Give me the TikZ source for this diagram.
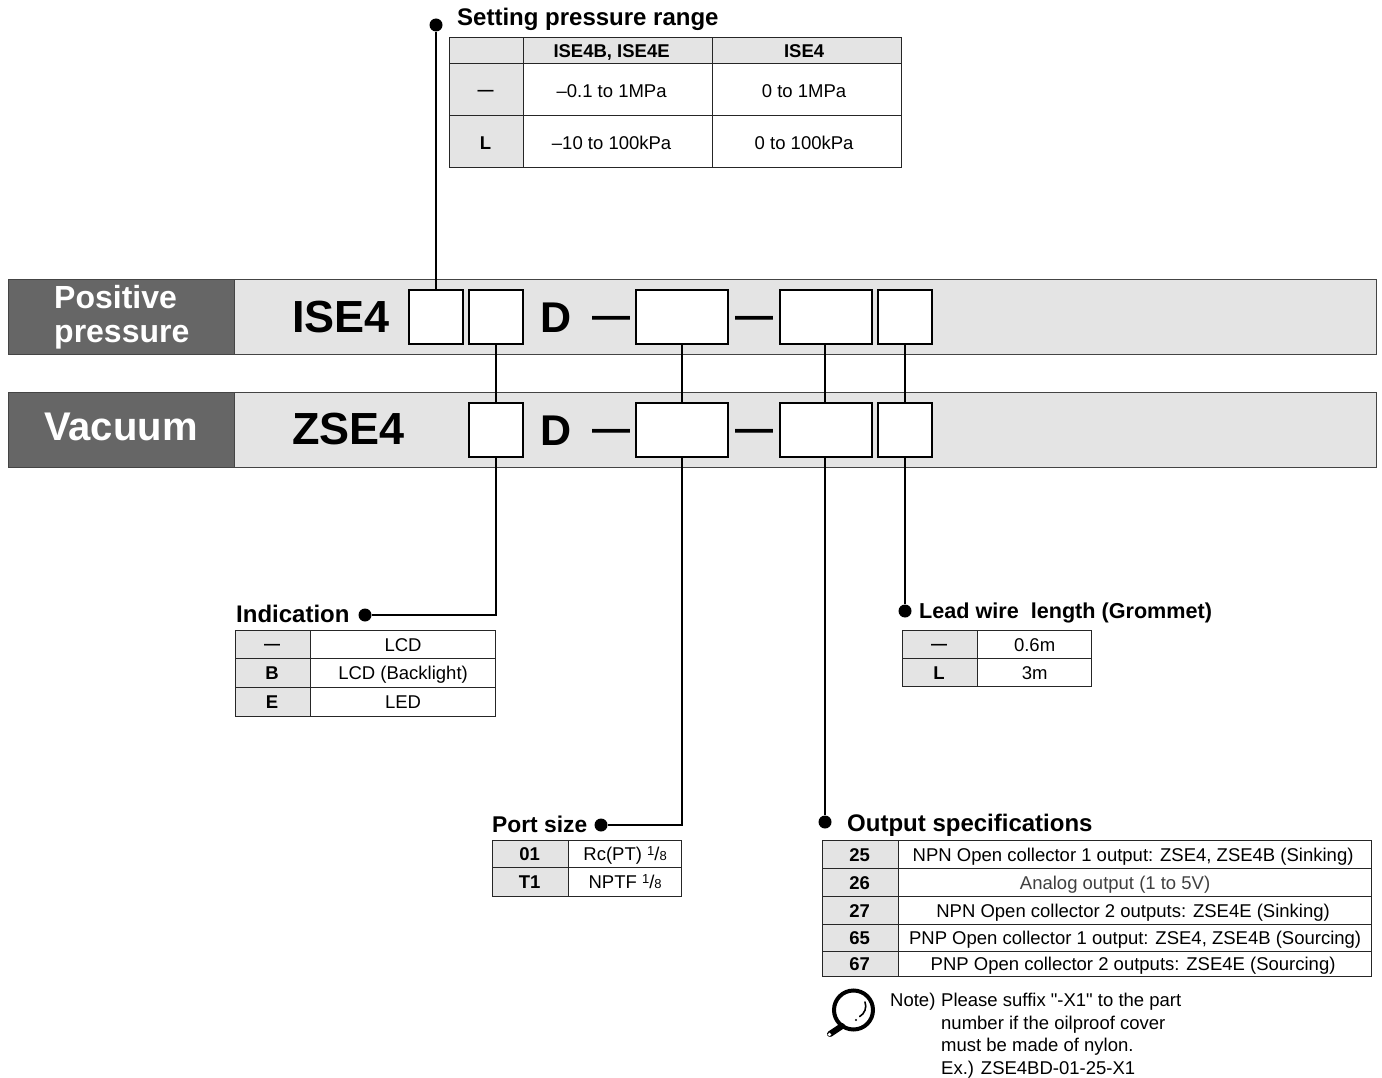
\documentclass[tikz,border=0pt]{standalone}
\usepackage{xcolor}
\usepackage{fontspec}
\setmainfont{Liberation Sans}
\newfontfamily\notefont{Liberation Sans}
\usetikzlibrary{arrows.meta, positioning}
\definecolor{banddark}{HTML}{666666}
\definecolor{bandlight}{HTML}{E4E4E4}
\definecolor{edgegray}{HTML}{444444}
\newcommand{\pxfont}[1]{\fontsize{#1}{#1}\selectfont}
\newcommand{\oneeighth}{\raisebox{5pt}{\pxfont{13}1}/\pxfont{13}8}
\newcommand{\keydash}{\raisebox{2pt}{\pxfont{16}—}}
\tikzset{
  band/.style={draw=edgegray, fill=bandlight, line width=1.2pt, minimum height=75pt, inner sep=0pt, anchor=north west},
  bandhead/.style={draw=edgegray, fill=banddark, text=white, font=\bfseries, line width=1.2pt, minimum height=75pt, inner sep=0pt, anchor=north west},
  codebox/.style={draw=black, fill=white, line width=2.2pt, minimum height=54pt, inner sep=0pt},
  code/.style={font=\pxfont{45}\bfseries, anchor=base west, inner sep=0pt},
  bigdash/.style={font=\pxfont{38}\bfseries, anchor=base, inner sep=0pt},
  dot/.style={circle, fill=black, inner sep=0pt, minimum size=13pt},
  wire/.style={line width=2.3pt, line join=miter},
  heading/.style={font=\pxfont{24}\bfseries, anchor=base west, inner sep=0pt},
  cell/.style={draw=black!85, line width=1.2pt, inner sep=0pt, anchor=north west, font=\pxfont{18.5}, text height=13.3pt, text depth=0pt},
  keycell/.style={cell, fill=bandlight, font=\pxfont{18.5}\bfseries},
  valcell/.style={cell, fill=white},
  notetext/.style={font=\notefont\fontsize{18.5}{22.5}\selectfont, align=left, inner sep=0pt, anchor=north west}
}
\begin{document}
\begin{tikzpicture}[x=1pt, y=-1pt]
  \useasboundingbox (0,0) rectangle (1382,1078);
  % Bands
  \node[band, minimum width=1142pt] (posband) at (234,279) {};
  \node[bandhead, minimum width=226pt] (poshead) at (8,279) {};
  \node[band, minimum width=1142pt] (vacband) at (234,392) {};
  \node[bandhead, minimum width=226pt] (vachead) at (8,392) {};
  \node[font=\fontsize{32}{34}\selectfont\bfseries, text=white, align=left, anchor=west, inner sep=0pt] (poslabel) at (54,317) {Positive\\pressure};
  \node[font=\pxfont{40}\bfseries, text=white, anchor=base west, inner sep=0pt] (vaclabel) at (44,440) {Vacuum};
  % Part numbers
  \node[code] (poscode) at (292,332) {ISE4};
  \node[code] (vaccode) at (292,444) {ZSE4};
  \node[code, font=\pxfont{43}\bfseries] (posd) at (540,332) {D};
  \node[code, font=\pxfont{43}\bfseries] (vacd) at (540,445) {D};
  \foreach \nm/\yy/\yb in {p/317/328, z/430/441} {
    \node[bigdash] (\nm-dasha) at (611,\yb) {—};
    \node[bigdash] (\nm-dashb) at (754,\yb) {—};
    \foreach \part/\xx/\w in {ind/496/54, port/682/92, out/826/92, lead/905/54}
      \node[codebox, minimum width=\w] (\nm-\part) at (\xx,\yy) {};
  }
  \node[codebox, minimum width=54] (p-press) at (436,317) {};
  % Dots
  \node[dot] (dot-press) at (436,25) {};
  \node[dot] (dot-ind) at (365,615) {};
  \node[dot] (dot-port) at (601,825) {};
  \node[dot] (dot-out) at (825,822) {};
  \node[dot] (dot-lead) at (905,611) {};
  % Connectors
  \draw[wire] (dot-press) -- (p-press);
  \foreach \part in {ind, port, lead}
    \draw[wire] (p-\part) -- (z-\part);
  \draw[wire] (p-out.south -| dot-out) -- (z-out.north -| dot-out);
  \draw[wire] (z-ind) |- (dot-ind);
  \draw[wire] (z-port) |- (dot-port);
  \draw[wire] (z-out.south -| dot-out) -- (dot-out);
  \draw[wire] (z-lead) -- (dot-lead);
  % Headings
  \node[heading] (head-press) at (457,26) {Setting pressure range};
  \node[heading] (head-ind) at (236,622) {Indication};
  \node[heading, font=\pxfont{21.6}\bfseries] (head-lead) at (919,618) {Lead wire\ \ length (Grommet)};
  \node[heading, font=\pxfont{22.8}\bfseries] (head-port) at (492,832) {Port size};
  \node[heading] (head-out) at (847,831) {Output specifications};
  % Setting pressure range
  \node[keycell, minimum width=74, minimum height=26] (press-k0) at (449,37) {};
  \node[keycell, minimum width=189, minimum height=26] (press-a0) at (523,37) {ISE4B, ISE4E\kern13pt};
  \node[keycell, minimum width=189, minimum height=26] (press-b0) at (712,37) {ISE4\kern6pt};
  \foreach \yy/\key/\a/\b [count=\i] in {63/\keydash/{–0.1 to 1MPa}/{0 to 1MPa}, 115/L/{–10 to 100kPa}/{0 to 100kPa}} {
    \node[keycell, minimum width=74, minimum height=52, text height=15.3pt] (press-k\i) at (449,\yy) {\key\kern2pt};
    \node[valcell, minimum width=189, minimum height=52, text height=15.3pt] (press-a\i) at (523,\yy) {\a\kern13pt};
    \node[valcell, minimum width=189, minimum height=52, text height=15.3pt] (press-b\i) at (712,\yy) {\b\kern6pt};
  }
  % Indication
  \foreach \yy/\h/\key/\val [count=\i] in {630/28/\keydash/LCD, 658/29/B/{LCD (Backlight)}, 687/29/E/LED} {
    \node[keycell, minimum width=75, minimum height=\h] (ind-k\i) at (235,\yy) {\key\kern2pt};
    \node[valcell, minimum width=185, minimum height=\h] (ind-v\i) at (310,\yy) {\val};
  }
  % Lead wire
  \foreach \yy/\key/\val [count=\i] in {630/\keydash/0.6m, 658/L/3m} {
    \node[keycell, minimum width=75, minimum height=28] (lead-k\i) at (902,\yy) {\key\kern2pt};
    \node[valcell, minimum width=114, minimum height=28] (lead-v\i) at (977,\yy) {\val};
  }
  % Port size
  \foreach \yy/\h/\key/\val [count=\i] in {840/27/01/{Rc(PT) \oneeighth}, 867/29/T1/{NPTF \oneeighth}} {
    \node[keycell, minimum width=76, minimum height=\h] (port-k\i) at (492,\yy) {\key\kern2pt};
    \node[valcell, minimum width=113, minimum height=\h] (port-v\i) at (568,\yy) {\val};
  }
  % Output specifications
  \foreach \yy/\h/\key/\val [count=\i] in {
    840/28/25/{NPN Open collector 1 output: ZSE4, ZSE4B (Sinking)\kern4pt},
    868/28/26/{\textcolor{black!75}{Analog output (1 to 5V)}\kern40pt},
    896/28/27/{NPN Open collector 2 outputs: ZSE4E (Sinking)\kern4pt},
    924/27/65/{PNP Open collector 1 output: ZSE4, ZSE4B (Sourcing)},
    951/25/67/{PNP Open collector 2 outputs: ZSE4E (Sourcing)\kern4pt}} {
    \node[keycell, minimum width=76, minimum height=\h] (out-k\i) at (822,\yy) {\key\kern2pt};
    \node[valcell, minimum width=473, minimum height=\h] (out-v\i) at (898,\yy) {\val};
  }
  % Note
  \draw[line width=4pt] (853.5,1010) circle (19.5);
  \draw[line width=1.6pt, line cap=round] (865,1002) arc (-20:60:12);
  \fill (856,1020) circle (1.2);
  \draw[line width=6pt, line cap=round] (842,1026) -- (830,1034);
  \fill[white] (829.5,1034.5) circle (1.8);
  \node[notetext] (note-head) at (890,993) {Note)};
  \node[notetext] (note-body) at (941,993) {Please suffix "-X1" to the part\\number if the oilproof cover\\must be made of nylon.\\Ex.) ZSE4BD-01-25-X1};
\end{tikzpicture}
\end{document}
